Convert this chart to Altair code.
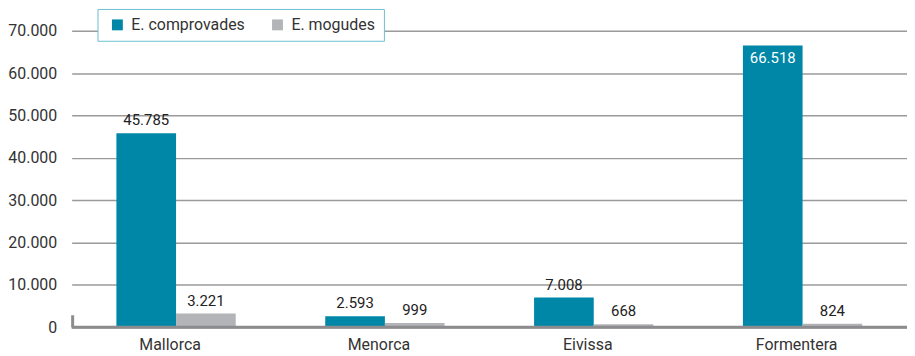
import altair as alt
import pandas as pd

islands = ["Mallorca", "Menorca", "Eivissa", "Formentera"]
series = ["E. comprovades", "E. mogudes"]
comprovades = [45785, 2593, 7008, 66518]
mogudes = [3221, 999, 668, 824]
y_ticks = [0, 10000, 20000, 30000, 40000, 50000, 60000, 70000]
colors = ["#0087a8", "#b2b4b7"]

rows = []
for i, isl in enumerate(islands):
    rows.append({"illa": isl, "serie": series[0], "valor": comprovades[i]})
    rows.append({"illa": isl, "serie": series[1], "valor": mogudes[i]})
df = pd.DataFrame(rows)

FONT = "Roboto"

x_enc = alt.X("illa:N", sort=islands, title=None,
              scale=alt.Scale(paddingInner=0.4286, paddingOuter=0.2143),
              axis=alt.Axis(labelFontSize=16, labelColor="#333333", labelPadding=9,
                            labelOffset=-6,
                            ticks=False, domain=False, labelAngle=0, labelFont=FONT))
y_enc = alt.Y("valor:Q", title=None,
              scale=alt.Scale(domain=[0, 70000], nice=False),
              axis=alt.Axis(values=y_ticks, grid=True, gridColor="#9a9a9a", gridWidth=1.5,
                            ticks=False, domain=False, labelPadding=15, labelFontSize=16,
                            labelColor="#333333", labelFont=FONT,
                            labelExpr="replace(format(datum.value, ','), ',', '.')"))

base = alt.Chart(df)

bars = base.mark_bar().encode(
    x=x_enc,
    xOffset=alt.XOffset("serie:N", sort=series),
    y=y_enc,
    color=alt.Color("serie:N", sort=series,
                    scale=alt.Scale(domain=series, range=colors),
                    legend=alt.Legend(title=None, orient="none", legendX=26, legendY=-22,
                                      direction="horizontal", symbolType="square",
                                      symbolSize=120, symbolStrokeWidth=0,
                                      labelFontSize=16, labelColor="#333333", labelFont=FONT,
                                      strokeColor="#6cbfd1", fillColor="white",
                                      padding=8, columnPadding=20, symbolOffset=4,
                                      labelOffset=6)),
)

lab = base.transform_calculate(
    txt="replace(format(datum.valor, ','), ',', '.')"
)

labels_out = lab.transform_filter("datum.valor < 60000").mark_text(
    baseline="bottom", dy=-5, fontSize=15, color="#222222", font=FONT
).encode(
    x=alt.X("illa:N", sort=islands),
    xOffset=alt.XOffset("serie:N", sort=series),
    y=alt.Y("valor:Q"),
    text="txt:N",
)

labels_in = lab.transform_filter("datum.valor >= 60000").mark_text(
    baseline="top", dy=6, fontSize=15, color="white", font=FONT
).encode(
    x=alt.X("illa:N", sort=islands),
    xOffset=alt.XOffset("serie:N", sort=series),
    y=alt.Y("valor:Q"),
    text="txt:N",
)

baseline = alt.Chart(pd.DataFrame({"v": [0]})).mark_rule(color="#8c8c8e", strokeWidth=3).encode(
    y=alt.Y("v:Q"), x=alt.value(0), x2=alt.value(840)
)
corner = alt.Chart(pd.DataFrame({"v": [0]})).mark_rule(color="#8c8c8e", strokeWidth=3).encode(
    y=alt.value(286), y2=alt.value(298), x=alt.value(1)
)

chart = alt.layer(bars, labels_out, labels_in, baseline, corner).properties(
    width=840, height=298,
    autosize=alt.AutoSizeParams(type="none"),
    padding={"left": 64, "top": 22, "right": 0, "bottom": 26},
).configure_view(stroke=None)

chart.save("out.html", embed_options={"renderer": "svg", "actions": False})
